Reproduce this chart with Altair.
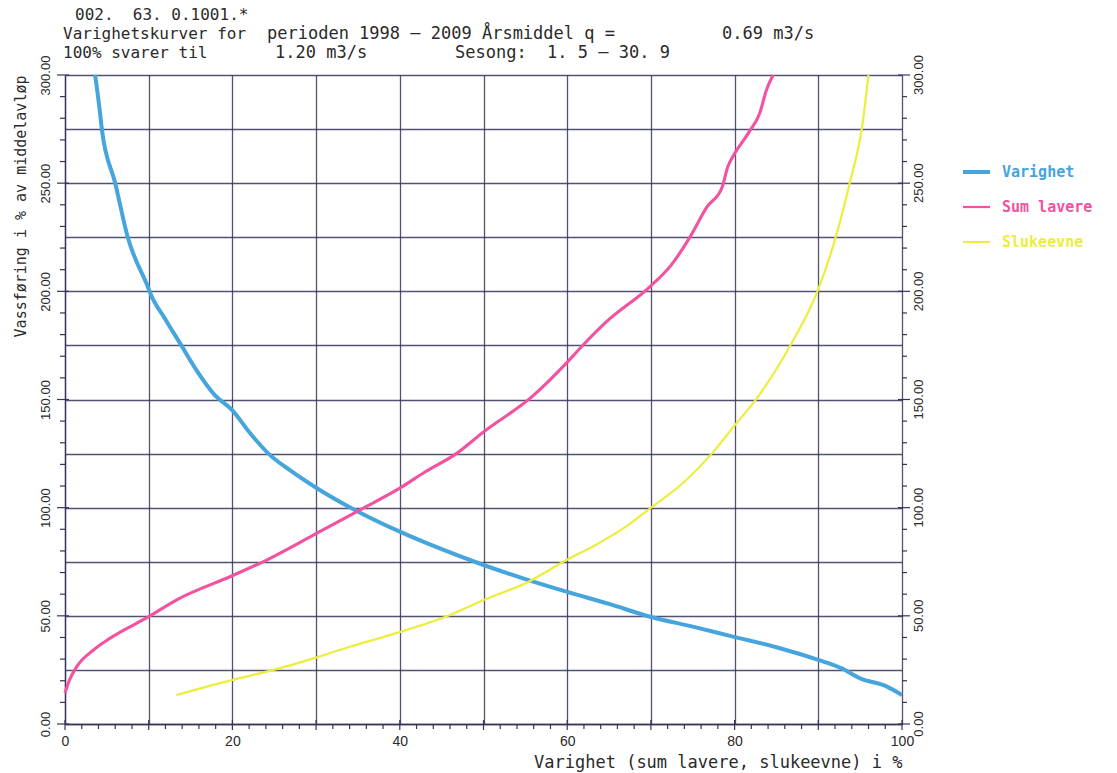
import altair as alt
import pandas as pd

series_names = ["Varighet", "Sum lavere", "Slukeevne"]
series_colors = ["#45a5dc", "#f2529f", "#eded3c"]
series_widths = [4.0, 2.2, 1.6]

varighet_x = [3.6, 4.2, 4.4, 6.0, 7.5, 9.9, 10.2, 12.0, 13.9, 15.7, 17.9, 20.0, 22.0, 24.3, 27.0,
              30.1, 34.8, 40.0, 45.0, 50.0, 55.0, 59.9, 65.0, 69.9, 75.0, 79.8, 85.0, 90.0,
              92.8, 95.0, 98.2, 100.0]
varighet_y = [300, 282, 275, 250, 225, 202, 199, 187, 175, 163.6, 152, 145, 135, 125, 117,
              109, 98.6, 88.9, 80.8, 73.5, 67, 61.2, 55.5, 49.6, 45, 40.4, 35.5, 29.6,
              25.7, 21.1, 17.3, 13.4]

sum_x = [0.0, 0.5, 1.4, 3.4, 5.4, 10.0, 13.3, 19.9, 24.1, 30.1, 35.2, 40.0, 43.0, 46.8, 50.0,
         55.8, 59.9, 61.9, 64.7, 69.9, 72.4, 74.7, 76.7, 78.5, 79.2, 79.8, 81.7, 83.0, 83.8, 84.6]
sum_y = [14.3, 20, 26.5, 34.2, 39.7, 49.6, 57.3, 68.4, 75.8, 88.2, 98.9, 109, 116.5, 125.1, 135,
         151.3, 166.8, 175.2, 186, 202.2, 212, 225.3, 239, 248, 257.7, 262.3, 273.5, 282.3, 293, 300]

sluk_x = [13.3, 19.9, 24.9, 30.1, 34.0, 38.8, 46.0, 50.0, 55.4, 59.9, 63.5, 66.7, 69.9, 74.0,
          77.3, 79.8, 82.8, 86.8, 89.9, 92.1, 93.8, 95.2, 96.0]
sluk_y = [13.4, 20.3, 25, 30.8, 35.7, 41.1, 50.4, 57.3, 65.8, 75.8, 83, 90.4, 99.7, 112,
          125.1, 137, 151.3, 176, 200, 225.3, 250.8, 275.3, 300]

x_grid = list(range(0, 101, 10))
x_minor = [v for v in range(0, 101, 2) if v % 10]
y_grid = list(range(0, 301, 25))
y_major = list(range(0, 301, 50))
y_minor = [v for v in range(0, 301, 10) if v % 50]

header_1 = "002.\u00a0\u00a063.\u00a00.1001.*"
header_2a = "Varighetskurver for"
header_2b = "perioden 1998 \u2013 2009 \u00c5rsmiddel q ="
header_2c = "0.69 m3/s"
header_3a = "100% svarer til"
header_3b = "1.20 m3/s"
header_3c = "Sesong:\u00a0\u00a01. 5 \u2013 30. 9"

y_title = "Vassf\u00f8ring i % av middelavl\u00f8p"
x_title = "Varighet (sum lavere, slukeevne) i %"

rows = []
for name, xs_, ys_ in [("Varighet", varighet_x, varighet_y),
                       ("Sum lavere", sum_x, sum_y),
                       ("Slukeevne", sluk_x, sluk_y)]:
    for i, (a, b) in enumerate(zip(xs_, ys_)):
        rows.append({"series": name, "x": a, "y": b, "i": i})
df = pd.DataFrame(rows)

W, H = 837, 649
xs = alt.Scale(domain=[0, 100], nice=False, zero=False)
ys = alt.Scale(domain=[0, 300], nice=False, zero=False)

TXT = "#2a2a2a"
LINE = "#34345a"
MONO = "DejaVu Sans Mono"

lines = alt.Chart(df).mark_line(clip=False, interpolate="monotone").encode(
    x=alt.X("x:Q", scale=xs, axis=alt.Axis(
        values=x_grid, grid=True, ticks=False, tickSize=0,
        labelExpr="datum.value % 20 == 0 ? datum.label : ''",
        labelPadding=10, labelFontSize=14, labelFont="Liberation Sans",
        title=x_title, titleX=W, titleY=38, titleAlign="right", titleAnchor="end",
        titleBaseline="middle", titleFontSize=17, titleFont=MONO,
        titleFontWeight="normal", labelFlush=False, labelOverlap=False)),
    y=alt.Y("y:Q", scale=ys, axis=alt.Axis(
        values=y_grid, grid=True, ticks=False, tickSize=0,
        labelExpr="datum.value % 50 == 0 ? format(datum.value, '.2f') : ''",
        labelAngle=270, labelAlign="center", labelBaseline="bottom",
        labelPadding=13, labelFontSize=13, labelFont="Liberation Sans",
        labelFlush=False, labelOverlap=False,
        title=y_title, titleX=-45, titleY=0, titleAngle=270, titleAlign="right",
        titleBaseline="middle", titleFontSize=15, titleFont=MONO,
        titleFontWeight="normal")),
    color=alt.Color("series:N", scale=alt.Scale(domain=series_names, range=series_colors), legend=None),
    size=alt.Size("series:N", scale=alt.Scale(domain=series_names, range=series_widths), legend=None),
    order=alt.Order("i:Q"),
)

def yrule(vals, x0, x1):
    return alt.Chart(pd.DataFrame({"v": vals})).mark_rule(color=LINE, strokeWidth=1.2).encode(
        y=alt.Y("v:Q", scale=ys), x=alt.value(x0), x2=alt.value(x1))

def xrule(vals, y0, y1):
    return alt.Chart(pd.DataFrame({"v": vals})).mark_rule(color=LINE, strokeWidth=1.2).encode(
        x=alt.X("v:Q", scale=xs), y=alt.value(y0), y2=alt.value(y1))

ticks = [
    yrule(y_minor, -5, 0), yrule(y_major, -8, 4),
    yrule(y_minor, W, W + 5), yrule(y_major, W - 4, W + 8),
    xrule(x_minor, H, H + 5), xrule(x_grid, H - 4, H + 6),
]

right_labels = alt.Chart(pd.DataFrame({"v": y_major})).mark_text(
    angle=270, align="center", baseline="top", font="Liberation Sans", fontSize=13, color=TXT
).encode(y=alt.Y("v:Q", scale=ys), x=alt.value(W + 11), text=alt.Text("v:Q", format=".2f"))

def label(txt, px, py, size=17, weight="normal", color=TXT):
    return alt.Chart(pd.DataFrame({"t": [txt]})).mark_text(
        align="left", baseline="middle", font=MONO, fontSize=size,
        fontWeight=weight, color=color
    ).encode(text="t:N", x=alt.value(px - 65), y=alt.value(py - 75))

headers = [
    label(header_1, 75, 15, 16), label(header_2a, 63, 34, 16), label(header_2b, 267, 34),
    label(header_2c, 722, 34), label(header_3a, 63, 53, 16), label(header_3b, 275, 53),
    label(header_3c, 455, 53),
]

legend_rows = [172, 207, 242]
legend_layers = []
for name, col, wdt, ry in zip(series_names, series_colors, series_widths, legend_rows):
    legend_layers.append(
        alt.Chart(pd.DataFrame({"series": [name]})).mark_rule(color=col, strokeWidth=max(wdt, 2)).encode(
            x=alt.value(963 - 65), x2=alt.value(990 - 65), y=alt.value(ry - 75)))
    legend_layers.append(
        alt.Chart(pd.DataFrame({"series": [name]})).mark_text(
            align="left", baseline="middle", font=MONO, fontSize=15,
            fontWeight="bold", color=col).encode(
            text="series:N", x=alt.value(1002 - 65), y=alt.value(ry - 75)))

chart = alt.layer(lines, *ticks, right_labels, *headers, *legend_layers).properties(
    width=W, height=H,
    autosize=alt.AutoSizeParams(type="none"),
    padding={"left": 65, "top": 75, "right": 215, "bottom": 49},
    background="white",
).configure_axis(
    gridColor=LINE, gridWidth=1.3, gridOpacity=0.85,
    domainColor=LINE, domainWidth=1.3, labelColor=TXT, titleColor=TXT,
).configure_view(stroke=None)

chart.save("out.html", embed_options={"renderer": "svg", "actions": False})
